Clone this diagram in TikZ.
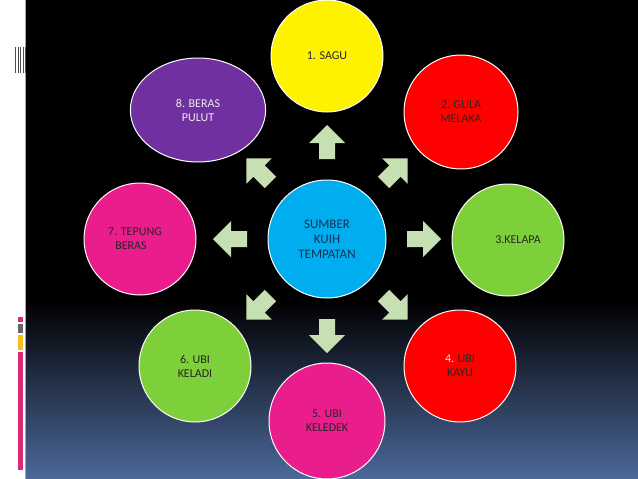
\documentclass[tikz,border=0pt]{standalone}
\usepackage{fontspec}
\setmainfont{Carlito}
\definecolor{mag}{RGB}{233,30,140}
\definecolor{barmag}{RGB}{220,40,120}
\definecolor{baryel}{RGB}{245,190,30}
\definecolor{grn}{RGB}{126,208,59}
\definecolor{pur}{RGB}{112,48,160}
\definecolor{cyn}{RGB}{0,174,239}
\definecolor{ctext}{RGB}{20,50,90}
\definecolor{arr}{RGB}{198,224,180}
\definecolor{botblue}{RGB}{76,104,154}
\begin{document}
\begin{tikzpicture}[x=1pt,y=-1pt,
  bub/.style={draw=white,line width=1pt,circle,font=\fontsize{12}{14}\selectfont,text=black!85,align=center,inner sep=0pt}]
\useasboundingbox (0,0) rectangle (638,479);
\fill[white] (0,0) rectangle (26,479);
\fill[black] (26,0) rectangle (638,479);
\shade[top color=black,bottom color=botblue] (26,300) rectangle (638,479);
\draw[gray!70,line width=0.8pt] (25.5,0) -- (25.5,479);
\foreach \x in {15,17.5,20,22.5,24.5} \fill[black!70] (\x,47) rectangle ++(1.2,26);
\fill[barmag] (18,317) rectangle (23,322);
\fill[black!60] (18,324) rectangle (23,333);
\fill[baryel] (18,335) rectangle (23,350);
\fill[barmag] (18,352) rectangle (23,470);
\foreach \a in {0,45,...,315}{
  \begin{scope}[shift={(327,239)},rotate=\a]
   \fill[arr] (80,-8) -- (96,-8) -- (96,-18) -- (114,0) -- (96,18) -- (96,8) -- (80,8) -- cycle;
  \end{scope}}
\node[draw=white,line width=1pt,circle,minimum size=118pt,fill=cyn,text=ctext,font=\fontsize{13}{15}\selectfont,align=center] (c) at (327,239) {SUMBER\\KUIH\\TEMPATAN};
\node[bub,minimum size=112pt,fill=yellow] (n1) at (327,56) {1. SAGU};
\node[bub,minimum size=114pt,fill=red] (n2) at (461,112) {2. GULA\\MELAKA};
\node[bub,minimum size=112pt,fill=grn] (n3) at (508,240) {\hspace*{20pt}3.KELAPA};
\node[bub,minimum size=112pt,fill=red] (n4) at (460,366) {\textcolor{white!80!gray}{4.} UBI\\KAYU};
\node[bub,minimum size=116pt,fill=mag] (n5) at (327,421) {5. UBI\\KELEDEK};
\node[bub,minimum size=112pt,fill=grn] (n6) at (195,366) {6. UBI\\KELADI};
\node[bub,minimum size=112pt,fill=mag] (n7) at (140,239) {7. TEPUNG\hspace*{10pt}\\BERAS\hspace*{18pt}};
\node[draw=white,line width=1pt,circle,xscale=1.3,minimum size=104pt,fill=pur] (n8) at (198,110) {};
\node[font=\fontsize{12}{14}\selectfont,text=white!85!gray,align=center] (t8) at (198,110) {8. BERAS\\PULUT};
\end{tikzpicture}
\end{document}
